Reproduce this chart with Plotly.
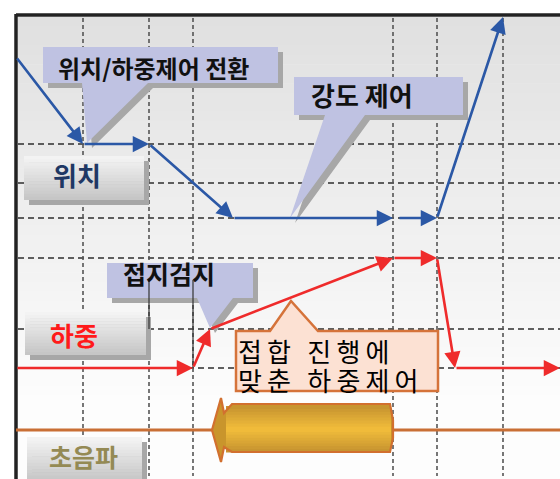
import plotly.graph_objects as go

# ---------------- data ----------------
# time marks (vertical dashed guides) and level marks (horizontal dashed guides)
time_marks = [83, 149, 193, 393, 437, 503]
level_marks = [144, 183, 218, 258, 329, 368]

# position profile, segment by segment (tail -> head)
position_x0 = [16, 83, 149, 233, 398, 437]
position_y0 = [57, 144, 144, 218, 218, 218]
position_x1 = [83, 149, 233, 393, 437, 503]
position_y1 = [144, 144, 218, 218, 218, 17]

# force profile, segment by segment (tail -> head)
force_x0 = [16, 193, 210, 393, 437, 455]
force_y0 = [368, 368, 329, 258, 258, 368]
force_x1 = [193, 210, 393, 437, 455, 560]
force_y1 = [368, 329, 258, 258, 368, 368]

# ultrasonic level and burst window
ultrasonic_level = 430
ultrasonic_on = [212, 393]

row_labels = ["위치", "하중", "초음파"]
callout_texts = ["위치/하중제어 전환", "강도 제어", "접지검지"]
note_lines = ["접합 진행에", "맞춘 하중제어"]

# ---------------- styling ----------------
BLUE = "#2b58a6"
RED = "#ef2b2b"
ORANGE = "#c96f35"
LAV = "#bfc2e2"
SHADOW = "#a7a7a7"
FONT = "Noto Sans CJK KR"

W, H = 560, 479
shapes = []
annotations = []

def hexmix(c1, c2, t):
    a = [int(c1[i:i + 2], 16) for i in (1, 3, 5)]
    b = [int(c2[i:i + 2], 16) for i in (1, 3, 5)]
    return "#" + "".join("%02x" % round(a[k] + (b[k] - a[k]) * t) for k in range(3))

def rect(x0, y0, x1, y1, color, layer="below"):
    shapes.append(dict(type="rect", xref="x", yref="y", x0=x0, y0=y0, x1=x1, y1=y1,
                       fillcolor=color, line=dict(width=0), layer=layer))

def line(x0, y0, x1, y1, color, width, dash=None, layer="below"):
    d = dict(color=color, width=width)
    if dash:
        d["dash"] = dash
    shapes.append(dict(type="line", xref="x", yref="y", x0=x0, y0=y0, x1=x1, y1=y1,
                       line=d, layer=layer))

def path(p, fill, lcolor=None, lwidth=0, layer="below"):
    shapes.append(dict(type="path", xref="x", yref="y", path=p, fillcolor=fill,
                       line=dict(color=lcolor or fill, width=lwidth), layer=layer))

def poly(pts, dx=0, dy=0):
    return "M" + " L".join("%g,%g" % (x + dx, y + dy) for x, y in pts) + " Z"

# background gradient
top_y, bot_y = 17, 395
n = 40
for i in range(n):
    y0 = top_y + (bot_y - top_y) * i / n
    y1 = top_y + (bot_y - top_y) * (i + 1) / n + 0.6
    rect(18, y0, W, y1, hexmix("#e0e0e0", "#fcfcfc", i / (n - 1)))
rect(18, bot_y, W, H, "#fdfdfd")

# dashed guides
for y in level_marks:
    line(18, y, W, y, "#2e2e2e", 1.3, "6px,4px")
for x in time_marks:
    line(x, 18, x, 476, "#555555", 1.6, "4px,3px")

# frame
line(16, 15, W, 15, "#222222", 3.5)
line(16, 14, 16, H, "#222222", 3.5)

# row label boxes with gradient
def label_box(x0, y0, x1, y1):
    rect(x0 + 5, y0 + 5, x1 + 5, y1 + 5, SHADOW)
    m = 14
    for i in range(m):
        a = y0 + (y1 - y0) * i / m
        b = y0 + (y1 - y0) * (i + 1) / m + 0.5
        rect(x0, a, x1, min(b, y1), hexmix("#f3f3f3", "#c6c6c6", i / (m - 1)))

label_box(24, 156, 144, 200)
label_box(25, 312, 146, 355)
label_box(27, 437, 142, 482)

# ultrasonic line and burst arrow
line(16, ultrasonic_level, W, ultrasonic_level, ORANGE, 3)
u0, u1 = ultrasonic_on
yc = ultrasonic_level
burst = [(u0, yc), (u0 + 9, yc - 32), (u0 + 12, yc - 17), (u0 + 20, yc - 26), (u1 - 3, yc - 26),
         (u1, yc - 10), (u1, yc + 8), (u1 - 3, yc + 22), (u0 + 20, yc + 22), (u0 + 12, yc + 17),
         (u0 + 9, yc + 32)]
path(poly(burst), "#c9952c", layer="above")
m = 16
for i in range(m):
    t = 1 - abs((i + 0.5) / m - 0.5) * 2
    a = yc - 24 + 46 * i / m
    b = yc - 24 + 46 * (i + 1) / m + 0.5
    shapes.append(dict(type="rect", xref="x", yref="y", x0=u0 + 14, x1=u1 - 2, y0=a, y1=b,
                       fillcolor=hexmix("#c49230", "#f3be3b", t), line=dict(width=0), layer="above"))
path(poly(burst), "rgba(0,0,0,0)", "#d2702f", 2.2, layer="above")

# callouts (lavender with shadow)
def callout(pts, fill=LAV):
    path(poly(pts, 5, 5), SHADOW, layer="above")
    path(poly(pts), fill, layer="above")

callout([(43, 47), (278, 47), (278, 83), (148, 83), (87, 143), (82, 83), (43, 83)])
callout([(294, 77), (463, 77), (463, 115), (365, 115), (290, 218), (325, 115), (294, 115)])
callout([(107, 263), (253, 263), (253, 298), (233, 298), (210, 328), (197, 298), (107, 298)])

# lines crossing the 접지검지 callout
line(149, 280, 149, 329, "#333333", 1.2, layer="above")
line(193, 280, 193, 368, "#333333", 1.2, layer="above")

# peach note callout
note = [(236, 331), (270, 331), (291, 301), (318, 331), (438, 331), (438, 391), (236, 391)]
path(poly(note), "#fce1d3", "#d5733a", 2.5, layer="above")

# profile arrows
def arrows(x0s, y0s, x1s, y1s, color):
    for x0, y0, x1, y1 in zip(x0s, y0s, x1s, y1s):
        annotations.append(dict(x=x1, y=y1, ax=x0, ay=y0, xref="x", yref="y", axref="x", ayref="y",
                                text="", showarrow=True, arrowhead=2, arrowsize=1.25,
                                arrowwidth=2.6, arrowcolor=color, standoff=0))

arrows(position_x0, position_y0, position_x1, position_y1, BLUE)
arrows(force_x0, force_y0, force_x1, force_y1, RED)

# texts
def text(x, y, s, size, color, weight="bold", xanchor="center", align="center"):
    annotations.append(dict(x=x, y=y, xref="x", yref="y", text=s, showarrow=False,
                            xanchor=xanchor, yanchor="middle", align=align,
                            font=dict(family=FONT, size=size, color=color, weight=weight)))

text(77, 174, row_labels[0], 26, "#1f3864")
text(74, 334, row_labels[1], 26, "#ff1a1a")
text(83, 456, row_labels[2], 25, "#948a54")

text(56, 67, callout_texts[0], 24, "#111111", xanchor="left")
text(309, 94, callout_texts[1], 26, "#111111", xanchor="left")
text(121, 273, callout_texts[2], 25, "#111111", xanchor="left")

def spaced(s):
    return "\u2009".join("\u00a0" if ch == " " else ch for ch in s)

text(236, 350, spaced(note_lines[0]), 26, "#000000", weight="normal", xanchor="left", align="left")
text(236, 379, spaced(note_lines[1]), 26, "#000000", weight="normal", xanchor="left", align="left")

fig = go.Figure(go.Scatter(x=[0, W], y=[0, H], mode="markers", marker=dict(opacity=0),
                           hoverinfo="skip", showlegend=False))
fig.update_layout(
    width=W, height=H, margin=dict(l=0, r=0, t=0, b=0),
    paper_bgcolor="white", plot_bgcolor="white",
    xaxis=dict(range=[0, W], visible=False, fixedrange=True),
    yaxis=dict(range=[H, 0], visible=False, fixedrange=True),
    shapes=shapes, annotations=annotations, showlegend=False,
)
fig.write_html("out.html", config={"displayModeBar": False},
               post_script="document.body.style.margin='0';document.body.style.overflow='hidden';")
